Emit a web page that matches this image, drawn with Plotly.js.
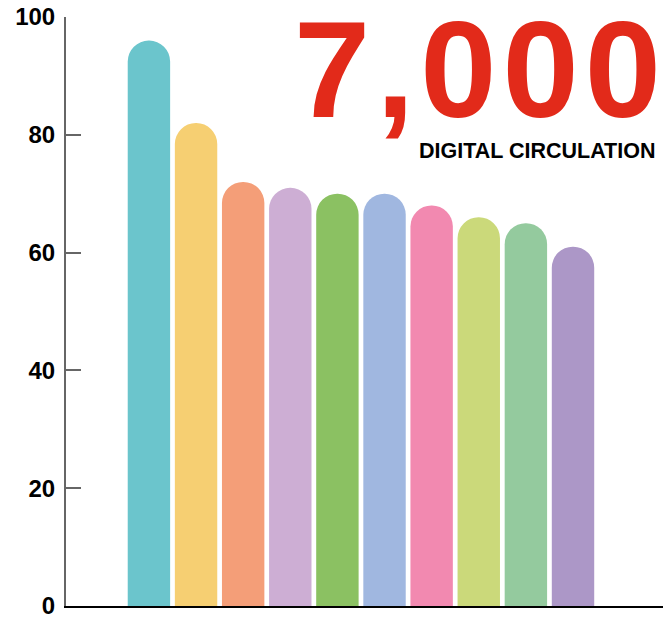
<!DOCTYPE html>
<html>
<head>
<meta charset="utf-8">
<script src="https://cdn.plot.ly/plotly-3.0.1.min.js"></script>
<style>html,body{margin:0;padding:0;background:#fff;}#chart{width:664px;height:618px;}</style>
</head>
<body>
<div id="chart"></div>
<script>
var categories = [0, 1, 2, 3, 4, 5, 6, 7, 8, 9];
var values = [96, 82, 72, 71, 70, 70, 68, 66, 65, 61];
var barColors = ["#6bc5cc", "#f6cf72", "#f49e78", "#cdaed4", "#8bc162", "#a0b7e0", "#f289b0", "#cbd97a", "#94ca9e", "#ac97c7"];
var yTicks = [0, 20, 40, 60, 80, 100];
var headline = "7,000";
var subline = "DIGITAL CIRCULATION";

var font = "Liberation Sans, Arial, Helvetica, sans-serif";

var trace = {
  type: "bar",
  x: categories,
  y: values,
  marker: {color: barColors, line: {width: 0}, cornerradius: "50%"},
  hoverinfo: "none"
};

var layout = {
  width: 664,
  height: 618,
  margin: {l: 66, r: 1, t: 17, b: 12, pad: 0},
  paper_bgcolor: "#ffffff",
  plot_bgcolor: "#ffffff",
  showlegend: false,
  bargap: 0.1,
  xaxis: {
    range: [-1.76, 10.91],
    showticklabels: false,
    ticks: "",
    showgrid: false,
    zeroline: false,
    showline: true,
    linecolor: "#000000",
    linewidth: 1.5
  },
  yaxis: {
    range: [0, 100],
    tickvals: yTicks,
    ticktext: yTicks.map(function (v) { return "<b>" + v + "</b>"; }),
    ticks: "inside",
    ticklen: 15,
    tickwidth: 2,
    tickcolor: "#666666",
    showgrid: false,
    zeroline: false,
    showline: true,
    linecolor: "#666666",
    linewidth: 2,
    ticklabelstandoff: 4,
    ticklabeloverflow: "allow",
    tickfont: {family: font, size: 24, color: "#000000", weight: "bold"}
  },
  annotations: [
    {
      xref: "paper", yref: "paper",
      x: (669 - 66) / 597, y: (606 - 123) / 589,
      xanchor: "right", yanchor: "bottom",
      text: '<b><span style="letter-spacing:6px">' + headline + '</span></b>',
      showarrow: false,
      font: {family: font, size: 137, color: "#e22a1a"},
      yshift: -25
    },
    {
      xref: "paper", yref: "paper",
      x: (657 - 66) / 597, y: (606 - 160) / 589,
      xanchor: "right", yanchor: "bottom",
      text: "<b>" + subline + "</b>",
      showarrow: false,
      font: {family: font, size: 21.5, color: "#000000"},
      yshift: -5
    }
  ]
};

Plotly.newPlot("chart", [trace], layout, {displayModeBar: false, staticPlot: true});
</script>
</body>
</html>
